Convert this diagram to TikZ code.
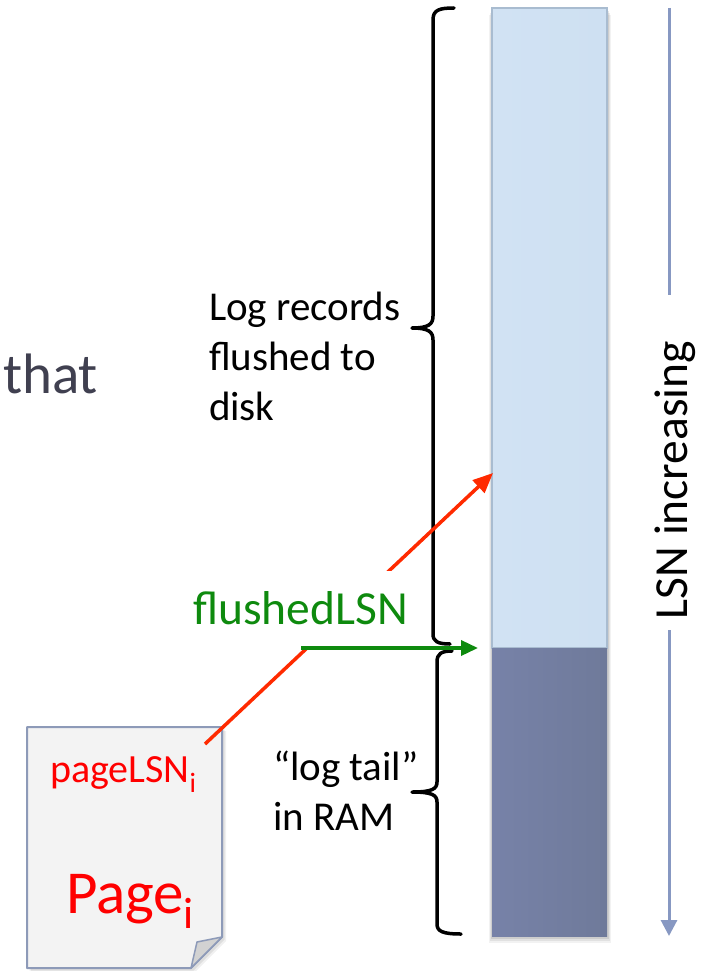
\documentclass[tikz,border=0pt]{standalone}
\usepackage{fontspec}
\setmainfont{Carlito}
\usetikzlibrary{arrows.meta}

\definecolor{slidegray}{HTML}{404050}
\definecolor{lightL}{HTML}{D1E2F3}
\definecolor{lightM}{HTML}{C2D8EE}
\definecolor{lightR}{HTML}{CEE0F2}
\definecolor{lightedge}{HTML}{A9BCD0}
\definecolor{darkL}{HTML}{7782A8}
\definecolor{darkM}{HTML}{7D8AB6}
\definecolor{darkR}{HTML}{6F7A9A}
\definecolor{lsnblue}{HTML}{8798C2}
\definecolor{redarrow}{HTML}{FF2A00}
\definecolor{greenarrow}{HTML}{0E8A0E}
\definecolor{pagefill}{HTML}{F3F3F3}
\definecolor{pageedge}{HTML}{8D9AB8}
\definecolor{foldgray}{HTML}{D2D2D2}

\tikzset{
  bracepath/.style={line width=3.5pt, black, line cap=round, line join=round},
  sizeA/.style={font=\fontsize{41}{50}\selectfont},
  plain/.style={inner sep=0pt, outer sep=0pt},
  pointer/.style={line width=3.5pt, redarrow, -{Triangle[length=20pt,width=17pt]}},
  marker/.style={line width=3.5pt, greenarrow, -{Triangle[length=17pt,width=15pt]}},
  axisarrow/.style={line width=3pt, lsnblue, -{Triangle[length=16pt,width=16pt]}},
}

\begin{document}
\begin{tikzpicture}[x=1pt,y=-1pt]
\useasboundingbox (0,0) rectangle (709,971);

% fragment of slide text at the left edge
\node[plain, anchor=base east, text=slidegray, font=\fontsize{57}{68}\selectfont] (that) at (98,393) {that};

% log bar shadow
\foreach \d/\o in {7/0.05,5/0.07,3/0.09}
  \fill[black, opacity=\o] (492-\d/2,8+\d) rectangle (607+\d/2,936+\d);

% flushed part of the log
\path[left color=lightL, middle color=lightM, right color=lightR] (492,8) rectangle (607,648);
\draw[lightedge, line width=1.5pt] (492,8) rectangle (607,648);
% log tail still in RAM
\path[left color=darkL, middle color=darkM, right color=darkR] (492,648) rectangle (607,936);

% braces
\draw[bracepath] (454,8) .. controls (439,8) and (433,10) .. (433,20)
  -- (433,316) .. controls (433,324) and (429,328) .. (412,328)
  .. controls (429,328) and (433,332) .. (433,340)
  -- (433,634) .. controls (433,641) and (437,644) .. (450,644);
\draw[bracepath] (452,651) .. controls (441,651) and (437,654) .. (437,662)
  -- (437,782) .. controls (437,789) and (432,792) .. (412,792)
  .. controls (432,792) and (437,795) .. (437,802)
  -- (437,924) .. controls (437,931) and (442,934) .. (461,934);

% brace labels (anchored at the baseline of their last line)
\node[plain, sizeA, anchor=base west, align=left] (flushedtxt) at (209,420)
  {Log records\\flushed to\\disk};
\node[plain, sizeA, anchor=base west, align=left] (tailtxt) at (273,830)
  {“log tail”\\in RAM};

% LSN direction
\coordinate (lsntop) at (669,8);
\coordinate (lsnbot) at (669,936);
\draw[axisarrow] (lsntop) -- (lsnbot);
\node[plain, rotate=90, anchor=base, fill=white, minimum width=335pt,
      font=\fontsize{47.5}{56}\selectfont] (lsn) at (687,462)
  {LSN increasing\kern36pt\relax};

% the page
\foreach \d/\o in {4/0.06,2.5/0.08}
  \fill[black, opacity=\o] (27+\d,727+\d) -- (222+\d,727+\d) -- (222+\d,937+\d)
    -- (191+\d,968+\d) -- (27+\d,968+\d) -- cycle;
\filldraw[fill=pagefill, draw=pageedge, line width=2pt, line join=round]
  (27,727) -- (222,727) -- (222,937) -- (191,968) -- (27,968) -- cycle;
\filldraw[fill=foldgray, draw=pageedge, line width=1.5pt, line join=round]
  (222,937) -- (197,942) -- (191,968) -- cycle;
\node[plain, anchor=base west, text=red, font=\fontsize{40}{48}\selectfont] (pagelsn) at (50,782)
  {pageLSN\raisebox{-10pt}{\fontsize{28}{32}\selectfont i}};
\node[plain, anchor=base west, text=red, font=\fontsize{61}{72}\selectfont] (pagei) at (66,913)
  {Page\raisebox{-15pt}{\fontsize{44}{50}\selectfont i}};

% pageLSN pointer into the flushed log
\coordinate (pgcorner) at (205,744);
\coordinate (logpos) at (493,473);
\draw[pointer] (pgcorner) -- (logpos);

% flushedLSN marker
\node[plain, fill=white, minimum height=75pt, text=greenarrow,
      font=\fontsize{47.5}{56}\selectfont] (flsn) at (300.5,608) {flushedLSN};
\coordinate (fstart) at (301,648);
\coordinate (fend) at (478,648);
\draw[marker] (fstart) -- (fend);
\end{tikzpicture}
\end{document}
